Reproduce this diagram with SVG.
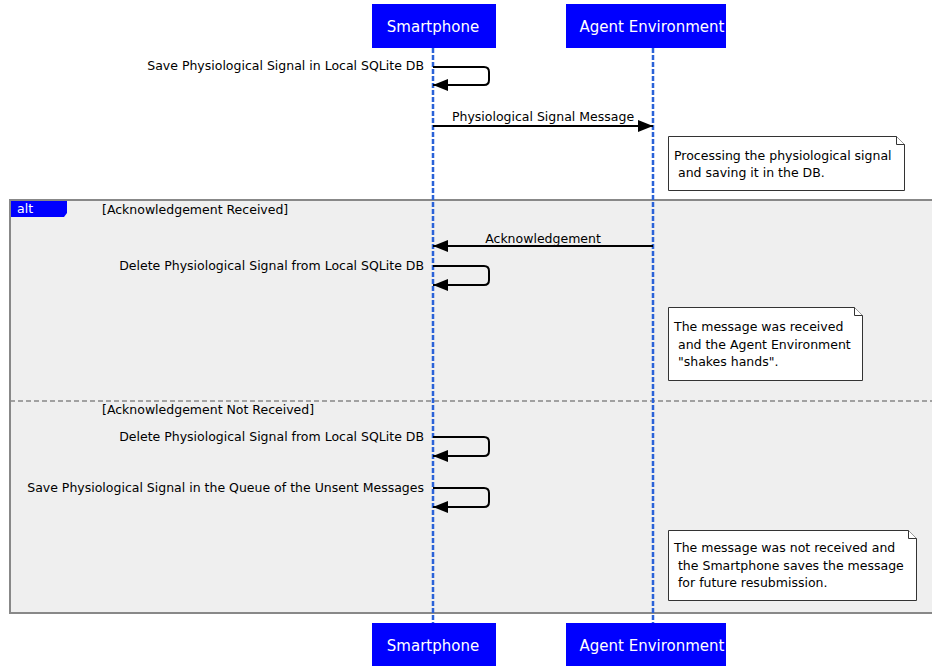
<svg xmlns="http://www.w3.org/2000/svg" width="932" height="666" viewBox="0 0 932 666">
  <style>
    text { font-family: "DejaVu Sans", "Liberation Sans", sans-serif; fill: #000; }
    .lbl { font-size: 12.5px; }
    .hdr { font-size: 15px; fill: #fff; }
    .head { fill: #0000ff; }
    .life { stroke: #2a62d8; stroke-width: 2.5; stroke-dasharray: 5 2; fill: none; }
    .msg { stroke: #000; stroke-width: 2; fill: none; }
    .note { fill: #fff; stroke: #333; stroke-width: 1; }
    .frame { fill: #efefef; stroke: #888; stroke-width: 2; }
  </style>
  <defs>
    <marker id="arr" viewBox="0 0 15 12" refX="15" refY="6" markerWidth="15" markerHeight="12" markerUnits="userSpaceOnUse" orient="auto">
      <path d="M0,0 L15,6 L0,12 Z" fill="#000"/>
    </marker>
  </defs>

  <!-- combined fragment -->
  <g id="alt-fragment">
    <rect class="frame" x="10" y="200" width="930" height="413"/>
    <path d="M11,201 H67 V213 L64,217 H11 Z" fill="#0000ff"/>
    <text x="17" y="213" class="lbl" style="fill:#fff">alt</text>
    <text x="102" y="214" class="lbl">[Acknowledgement Received]</text>
    <line x1="10" y1="401" x2="932" y2="401" stroke="#888" stroke-width="1.5" stroke-dasharray="5 3"/>
    <text x="102" y="414" class="lbl">[Acknowledgement Not Received]</text>
  </g>

  <!-- lifelines -->
  <g id="lifelines">
    <line class="life" x1="433" y1="48" x2="433" y2="623"/>
    <line class="life" x1="653" y1="48" x2="653" y2="623"/>
  </g>

  <g id="smartphone">
    <rect class="head" x="372" y="4" width="124" height="44"/>
    <text class="hdr" x="433" y="32" text-anchor="middle">Smartphone</text>
    <rect class="head" x="372" y="623" width="124" height="44"/>
    <text class="hdr" x="433" y="651" text-anchor="middle">Smartphone</text>
  </g>

  <g id="agent-environment">
    <rect class="head" x="566" y="4" width="160" height="44"/>
    <text class="hdr" x="652" y="32" text-anchor="middle">Agent Environment</text>
    <rect class="head" x="566" y="623" width="160" height="44"/>
    <text class="hdr" x="652" y="651" text-anchor="middle">Agent Environment</text>
  </g>

  <!-- messages -->
  <g id="connectors">
    <path class="msg" d="M433,67 H484 Q489,67 489,72 V80 Q489,85 484,85 H433" marker-end="url(#arr)"/>
    <text class="lbl" x="424" y="70" text-anchor="end">Save Physiological Signal in Local SQLite DB</text>

    <line class="msg" x1="433" y1="126" x2="653" y2="126" marker-end="url(#arr)"/>
    <text class="lbl" x="543" y="121" text-anchor="middle">Physiological Signal Message</text>

    <line class="msg" x1="653" y1="246" x2="433" y2="246" marker-end="url(#arr)"/>
    <text class="lbl" x="543" y="243" text-anchor="middle">Acknowledgement</text>

    <path class="msg" d="M433,266 H484 Q489,266 489,271 V280 Q489,285 484,285 H433" marker-end="url(#arr)"/>
    <text class="lbl" x="424" y="270" text-anchor="end">Delete Physiological Signal from Local SQLite DB</text>

    <path class="msg" d="M433,437 H484 Q489,437 489,442 V451 Q489,456 484,456 H433" marker-end="url(#arr)"/>
    <text class="lbl" x="424" y="441" text-anchor="end">Delete Physiological Signal from Local SQLite DB</text>

    <path class="msg" d="M433,488 H484 Q489,488 489,493 V502 Q489,507 484,507 H433" marker-end="url(#arr)"/>
    <text class="lbl" x="424" y="492" text-anchor="end">Save Physiological Signal in the Queue of the Unsent Messages</text>
  </g>

  <!-- notes -->
  <g id="note-processing">
    <path class="note" d="M668.5,136.5 H896.5 L904.5,144.5 V190.5 H668.5 Z"/>
    <path class="note" d="M896.5,136.5 V144.5 H904.5" fill="none"/>
    <text class="lbl" x="674" y="160">Processing the physiological signal</text>
    <text class="lbl" x="674" y="177" xml:space="preserve"> and saving it in the DB.</text>
  </g>

  <g id="note-received">
    <path class="note" d="M668.5,307.5 H854.5 L862.5,315.5 V380.5 H668.5 Z"/>
    <path class="note" d="M854.5,307.5 V315.5 H862.5" fill="none"/>
    <text class="lbl" x="674" y="331">The message was received</text>
    <text class="lbl" x="674" y="349" xml:space="preserve"> and the Agent Environment</text>
    <text class="lbl" x="674" y="366" xml:space="preserve"> "shakes hands".</text>
  </g>

  <g id="note-not-received">
    <path class="note" d="M668.5,530.5 H908.5 L916.5,538.5 V600.5 H668.5 Z"/>
    <path class="note" d="M908.5,530.5 V538.5 H916.5" fill="none"/>
    <text class="lbl" x="674" y="552">The message was not received and</text>
    <text class="lbl" x="674" y="570" xml:space="preserve"> the Smartphone saves the message</text>
    <text class="lbl" x="674" y="587" xml:space="preserve"> for future resubmission.</text>
  </g>
</svg>
